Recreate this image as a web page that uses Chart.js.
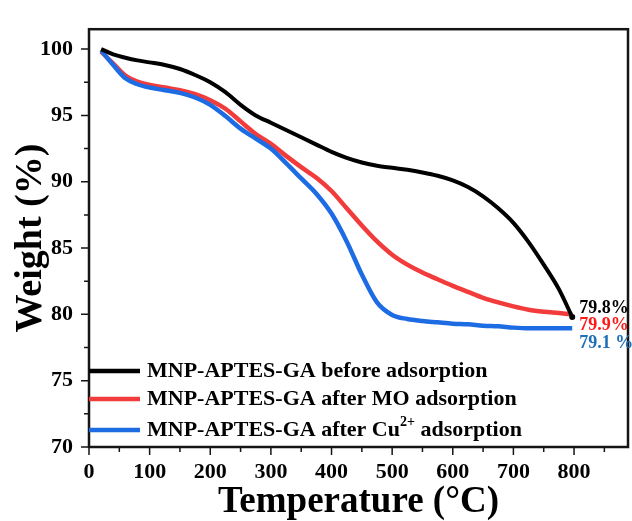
<!DOCTYPE html>
<html>
<head>
<meta charset="utf-8">
<script src="https://cdn.jsdelivr.net/npm/chart.js@4.4.1/dist/chart.umd.min.js"></script>
<style>
  html, body { margin: 0; padding: 0; background: #fff; }
  #wrap { width: 632px; height: 521px; }
</style>
</head>
<body>
<div id="wrap"><canvas id="tga" width="632" height="521"></canvas></div>
<script>
// TGA curves, values
const temps = [20, 40, 60, 80, 100, 125, 150, 175, 200, 225, 250, 275, 300, 325, 350, 375,
  400, 425, 450, 475, 500, 525, 550, 575, 600, 625, 650, 675, 700, 725, 750, 775, 797];
const weightBefore = [100.0, 99.6, 99.35, 99.15, 99.0, 98.8, 98.5, 98.05, 97.5, 96.75, 95.8, 95.0,
  94.45, 93.9, 93.35, 92.8, 92.25, 91.8, 91.45, 91.2, 91.05, 90.9, 90.7, 90.45, 90.1, 89.6, 88.9,
  88.0, 86.9, 85.45, 83.75, 81.9, 79.8];
const weightMO = [99.8, 98.9, 98.0, 97.55, 97.3, 97.1, 96.9, 96.6, 96.15, 95.5, 94.55, 93.6,
  92.85, 91.95, 91.1, 90.3, 89.3, 88.0, 86.7, 85.5, 84.5, 83.75, 83.15, 82.65, 82.15, 81.7, 81.25,
  80.9, 80.6, 80.35, 80.2, 80.1, 80.0];
const weightCu = [99.9, 98.8, 97.8, 97.35, 97.1, 96.9, 96.7, 96.35, 95.8, 94.95, 94.0, 93.25,
  92.5, 91.4, 90.25, 89.1, 87.6, 85.5, 83.0, 80.9, 79.95, 79.65, 79.5, 79.4, 79.3, 79.25, 79.15,
  79.1, 79.0, 78.95, 78.95, 78.95, 78.95];

const xTicks = [0, 100, 200, 300, 400, 500, 600, 700, 800];
const yTicks = [70, 75, 80, 85, 90, 95, 100];

const legendParts = [
  ['MNP-APTES-GA before adsorption'],
  ['MNP-APTES-GA after MO adsorption'],
  ['MNP-APTES-GA after Cu', '2+', ' adsorption']
];
const endLabels = ['79.8%', '79.9%', '79.1 %'];
const endColors = ['#000000', '#ff1a1a', '#1f6fb8'];

const serif = '"Liberation Serif", "Times New Roman", serif';

// frame box and major/minor ticks
const frame = {
  id: 'frame',
  afterDatasetsDraw(chart) {
    const { ctx, chartArea: a, scales: { x, y } } = chart;
    ctx.save();
    ctx.strokeStyle = '#151515';
    ctx.lineWidth = 2.5;
    ctx.strokeRect(a.left, a.top, a.right - a.left, a.bottom - a.top);
    ctx.lineWidth = 1.5;
    ctx.beginPath();
    xTicks.forEach(v => {
      const px = x.getPixelForValue(v);
      ctx.moveTo(px, a.bottom); ctx.lineTo(px, a.bottom + 8);
      const m = x.getPixelForValue(v + 50);
      if (m < a.right - 3) { ctx.moveTo(m, a.bottom); ctx.lineTo(m, a.bottom + 5); }
    });
    yTicks.forEach(v => {
      const py = y.getPixelForValue(v);
      ctx.moveTo(a.left, py); ctx.lineTo(a.left - 8, py);
      const m = y.getPixelForValue(v + 2.5);
      if (m > a.top + 3) { ctx.moveTo(a.left, m); ctx.lineTo(a.left - 5, m); }
    });
    ctx.stroke();
    ctx.restore();
  }
};

// legend inside plot, lower left
const legendBox = {
  id: 'legendBox',
  afterDraw(chart) {
    const { ctx, chartArea: a } = chart;
    const rows = [a.bottom - 76, a.bottom - 48, a.bottom - 17];
    ctx.save();
    ctx.textBaseline = 'middle';
    ctx.textAlign = 'left';
    chart.data.datasets.forEach((ds, i) => {
      const yy = rows[i];
      ctx.strokeStyle = ds.borderColor;
      ctx.lineWidth = 4.5;
      ctx.beginPath();
      ctx.moveTo(a.left, yy);
      ctx.lineTo(a.left + 51, yy);
      ctx.stroke();
      ctx.fillStyle = '#000';
      let tx = a.left + 58;
      legendParts[i].forEach((part, j) => {
        const sup = legendParts[i].length === 3 && j === 1;
        ctx.font = sup ? 'bold 14px ' + serif : 'bold 22px ' + serif;
        ctx.fillText(part, tx, sup ? yy - 8 : yy);
        tx += ctx.measureText(part).width;
      });
    });
    ctx.restore();
  }
};

// final weight labels at curve ends
const endText = {
  id: 'endText',
  afterDraw(chart) {
    const { ctx, scales: { x, y } } = chart;
    const last = temps.length - 1;
    const px = x.getPixelForValue(temps[last]) + 7;
    const py = y.getPixelForValue(weightBefore[last]) - 9;
    ctx.save();
    ctx.font = 'bold 18px ' + serif;
    ctx.textBaseline = 'middle';
    endLabels.forEach((t, i) => {
      ctx.fillStyle = endColors[i];
      ctx.fillText(t, px, py + i * 17.5);
    });
    ctx.restore();
  }
};

new Chart(document.getElementById('tga'), {
  type: 'line',
  data: {
    labels: temps,
    datasets: [
      {
        label: legendParts[0].join(''),
        data: temps.map((t, i) => ({ x: t, y: weightBefore[i] })),
        borderColor: '#000000',
        borderWidth: 4,
        pointRadius: c => (c.dataIndex === temps.length - 1 ? 3 : 0),
        pointBackgroundColor: '#000',
        pointBorderWidth: 0,
        order: 0
      },
      {
        label: legendParts[1].join(''),
        data: temps.map((t, i) => ({ x: t, y: weightMO[i] })),
        borderColor: 'rgb(242,60,60)',
        borderWidth: 4.5,
        pointRadius: 0,
        order: 2
      },
      {
        label: legendParts[2].join(''),
        data: temps.map((t, i) => ({ x: t, y: weightCu[i] })),
        borderColor: 'rgb(30,108,228)',
        borderWidth: 4.5,
        pointRadius: 0,
        order: 1
      }
    ]
  },
  options: {
    responsive: false,
    animation: false,
    devicePixelRatio: 1,
    cubicInterpolationMode: 'monotone',
    layout: { padding: { top: 10, right: 1, left: 0, bottom: 0 } },
    plugins: { legend: { display: false }, tooltip: { enabled: false } },
    scales: {
      x: {
        type: 'linear',
        min: 0,
        max: 889,
        afterBuildTicks: s => { s.ticks = xTicks.map(v => ({ value: v })); },
        afterFit: s => { s.height = 74; },
        grid: { display: false, drawTicks: false },
        border: { display: false },
        ticks: {
          font: { family: serif, weight: 'bold', size: 22 },
          color: '#000',
          padding: 12,
          maxRotation: 0,
          autoSkip: false
        },
        title: {
          display: true,
          text: 'Temperature (°C)',
          color: '#000',
          font: { family: serif, weight: 'bold', size: 37, lineHeight: 1 },
          padding: 0
        }
      },
      y: {
        min: 70,
        max: 101.5,
        afterBuildTicks: s => { s.ticks = yTicks.map(v => ({ value: v })); },
        afterFit: s => { s.width = 89; },
        grid: { display: false, drawTicks: false },
        border: { display: false },
        ticks: {
          font: { family: serif, weight: 'bold', size: 22 },
          color: '#000',
          padding: 16
        },
        title: {
          display: true,
          text: 'Weight (%)',
          color: '#000',
          font: { family: serif, weight: 'bold', size: 38, lineHeight: 1 },
          padding: { top: 12, bottom: 0 }
        }
      }
    }
  },
  plugins: [frame, legendBox, endText]
});
</script>
</body>
</html>
